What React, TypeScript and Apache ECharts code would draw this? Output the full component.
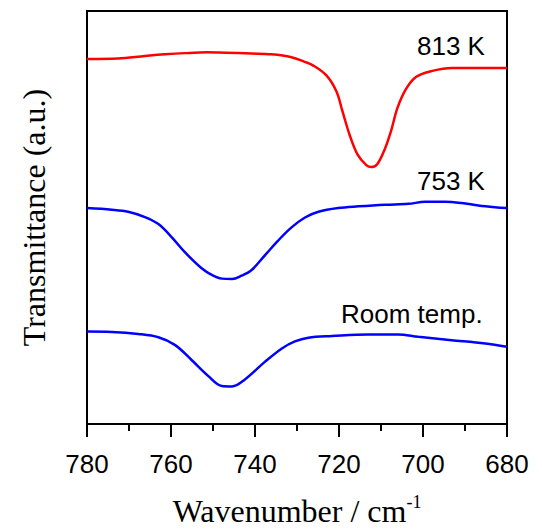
import React, { useEffect, useRef } from "react";
import * as echarts from "echarts";

// Wavenumber (cm^-1) / transmittance (a.u.) pairs
const red813K: [number, number][] = [
  [780, 88.4], [772.6, 88.5], [766.2, 89.1], [761.5, 89.5], [756.7, 89.8], [751.3, 90.0],
  [747.2, 89.9], [740.8, 89.7], [736.1, 89.5], [731.3, 88.8], [728.2, 87.7], [726.3, 86.9],
  [723.0, 84.4], [720.6, 80.5], [719.2, 75.8], [717.5, 70.1], [715.6, 65.3], [713.5, 62.7],
  [712.3, 62.2], [710.9, 62.9], [709.2, 66.3], [707.6, 71.0], [706.1, 76.5], [704.0, 81.2],
  [701.6, 84.1], [697.8, 85.5], [693.1, 86.2], [680, 86.2],
];

const blue753K: [number, number][] = [
  [780, 52.3], [774.1, 51.9], [770.2, 51.4], [766.2, 50.1], [763.0, 48.4], [759.8, 45.2],
  [756.7, 41.6], [752.7, 37.7], [750.3, 36.1], [747.9, 35.2], [745.5, 35.1], [743.2, 35.9],
  [740.8, 37.3], [737.6, 40.9], [734.5, 44.4], [731.3, 47.6], [728.1, 50.0], [724.9, 51.4],
  [720.2, 52.3], [715.4, 52.7], [709.0, 53.1], [703.5, 53.3], [699.5, 53.8], [694.8, 53.8],
  [690.8, 53.5], [686.8, 52.9], [682.9, 52.5], [680, 52.3],
];

const blueRoom: [number, number][] = [
  [780, 22.4], [774.1, 22.3], [767.8, 21.8], [763.0, 21.0], [759.0, 19.1], [755.1, 15.5],
  [751.1, 11.6], [747.9, 9.2], [745.5, 9.1], [742.4, 10.8], [737.6, 15.1], [733.6, 18.3],
  [730.5, 20.0], [727.3, 20.9], [721.7, 21.3], [713.0, 21.7], [705.9, 21.7], [701.1, 21.1],
  [693.2, 20.3], [685.2, 19.5], [680, 18.7],
];

const seriesLabels = ["813 K", "753 K", "Room temp."];
const xMin = 680;
const xMax = 780;
const xInterval = 20;

const SANS = "'Liberation Sans', Arial, sans-serif";
const SERIF = "'Liberation Serif', 'Times New Roman', serif";

export default function App() {
  const ref = useRef<HTMLDivElement>(null);
  useEffect(() => {
    if (!ref.current) return;
    const chart = echarts.init(ref.current, undefined, { renderer: "svg" });
    const lineSeries = (data: [number, number][], color: string) => ({
      type: "line",
      data,
      smooth: 0.35,
      showSymbol: false,
      lineStyle: { color, width: 2.5 },
      itemStyle: { color },
    });
    chart.setOption({
      animation: false,
      backgroundColor: "#fff",
      grid: {
        left: 87,
        right: 35,
        top: 11,
        bottom: 100,
        show: true,
        borderColor: "#000",
        borderWidth: 2,
        backgroundColor: "transparent",
      },
      xAxis: {
        type: "value",
        min: xMin,
        max: xMax,
        interval: xInterval,
        inverse: true,
        axisLine: { show: true, lineStyle: { color: "#000", width: 2 } },
        axisTick: { show: true, inside: false, length: 13, lineStyle: { color: "#000", width: 2 } },
        minorTick: { show: true, splitNumber: 2, length: 7, lineStyle: { color: "#000", width: 2 } },
        splitLine: { show: false },
        axisLabel: { color: "#000", fontSize: 26, fontFamily: SANS, margin: 27 },
        name: "{a|Wavenumber / cm}{b|-1}",
        nameLocation: "middle",
        nameGap: 69,
        nameTextStyle: {
          rich: {
            a: { fontSize: 32, fontFamily: SERIF, color: "#000", lineHeight: 34, verticalAlign: "bottom" },
            b: { fontSize: 18, fontFamily: SERIF, color: "#000", lineHeight: 34, verticalAlign: "top" },
          },
        },
      },
      yAxis: {
        type: "value",
        min: 0,
        max: 100,
        axisLine: { show: true, lineStyle: { color: "#000", width: 2 } },
        axisTick: { show: false },
        axisLabel: { show: false },
        splitLine: { show: false },
        name: "Transmittance (a.u.)",
        nameLocation: "middle",
        nameGap: 37,
        nameTextStyle: { fontSize: 32, fontFamily: SERIF, color: "#000" },
      },
      graphic: [
        { type: "text", left: 417, top: 33, style: { text: seriesLabels[0], fontSize: 26, fontFamily: SANS, fill: "#000" } },
        { type: "text", left: 417, top: 168, style: { text: seriesLabels[1], fontSize: 26, fontFamily: SANS, fill: "#000" } },
        { type: "text", left: 341, top: 301, style: { text: seriesLabels[2], fontSize: 26, fontFamily: SANS, fill: "#000" } },
      ],
      series: [
        lineSeries(red813K, "#ff0000"),
        lineSeries(blue753K, "#0000ff"),
        lineSeries(blueRoom, "#0000ff"),
      ],
    });
    return () => chart.dispose();
  }, []);
  return <div ref={ref} style={{ width: 542, height: 532, position: "absolute", left: 0, top: 0 }} />;
}
